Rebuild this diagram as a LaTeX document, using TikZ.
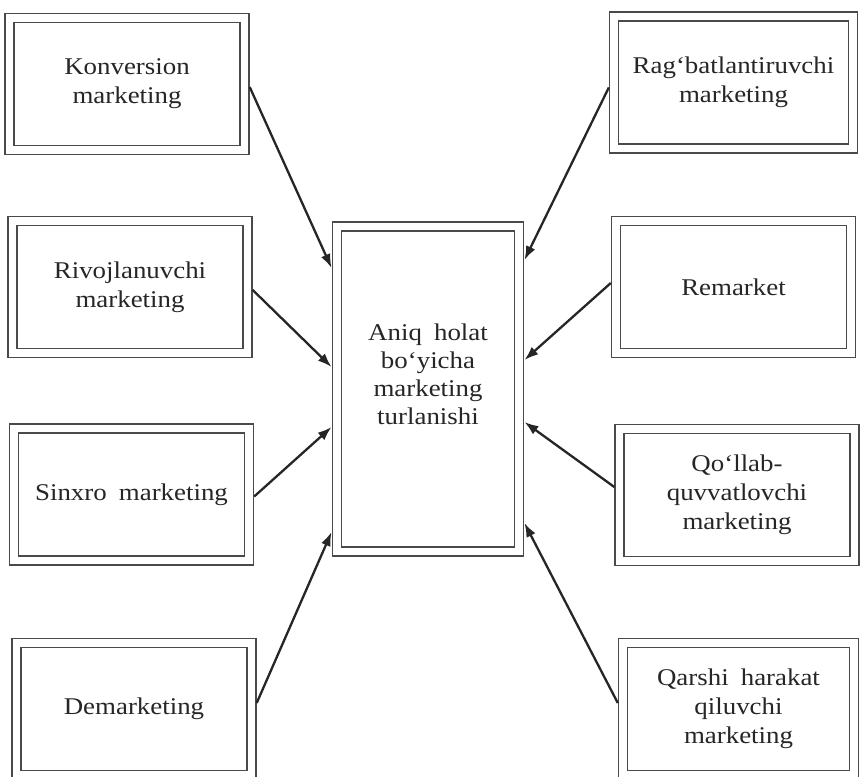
\documentclass[tikz,border=0pt]{standalone}
\usepackage{fontspec}
\setmainfont[FakeStretch=1.12,WordSpace=1.8]{Liberation Serif}
\usetikzlibrary{arrows.meta}
\definecolor{ink}{HTML}{262626}
\definecolor{frame}{HTML}{4A4A4A}
\begin{document}
\begin{tikzpicture}[x=1pt,y=-1pt,
  box/.style={draw=frame, line width=1.3pt, double=white, double distance=7.8pt,
    minimum width=235pt, minimum height=132pt, outer sep=5.2pt, inner sep=0pt,
    align=center, text=ink, font=\fontsize{24}{29}\selectfont},
  label text/.style={align=center, text=ink, inner sep=0pt,
    font=\fontsize{24}{28}\selectfont},
  link/.style={draw=ink, line width=2.3pt, -{Latex[length=14pt,width=10pt]}}
]
\fill[white] (0,0) rectangle (861,776);
\useasboundingbox (0,0) rectangle (861,776);

% central box
\node[box, minimum width=182.5pt, minimum height=325pt] (c) at (428,389) {};
\node[label text] (ctext) at (428,374) {Aniq holat\\bo‘yicha\\marketing\\turlanishi};

% left column
\node[box] (konv) at (127,84)    {Konversion\\marketing};
\node[box] (rivoj) at (130,287)  {Rivojlanuvchi\\marketing};
\node[box] (sinx) at (131.5,494.5) {Sinxro marketing};
\node[box] (demar) at (134,709)  {Demarketing};

% right column
\node[box, minimum width=239pt] (ragb) at (733.5,82.5) {Rag‘batlantiruvchi\\marketing};
\node[box] (remar) at (733.5,287) {Remarket};
\node[box] (qollab) at (737,495)  {Qo‘llab-\\quvvatlovchi\\marketing};
\node[box, minimum width=231pt] (qarshi) at (738.5,709) {Qarshi harakat\\qiluvchi\\marketing};

% connectors into the central box
\draw[link] ([yshift=-3pt]konv.east)  -- ([yshift=121pt]c.west);
\draw[link] ([yshift=-3pt]rivoj.east) -- ([yshift=22pt]c.west);
\draw[link] ([yshift=-2pt]sinx.east)  -- ([yshift=-38pt]c.west);
\draw[link] ([yshift=6pt]demar.east)  -- ([yshift=-143pt]c.west);

\draw[link] ([yshift=-5pt]ragb.west)  -- ([yshift=129pt]c.east);
\draw[link] ([yshift=4pt]remar.west)  -- ([yshift=29pt]c.east);
\draw[link] ([yshift=8pt]qollab.west) -- ([yshift=-33pt]c.east);
\draw[link] ([yshift=6pt]qarshi.west) -- ([yshift=-134pt]c.east);
\end{tikzpicture}
\end{document}
